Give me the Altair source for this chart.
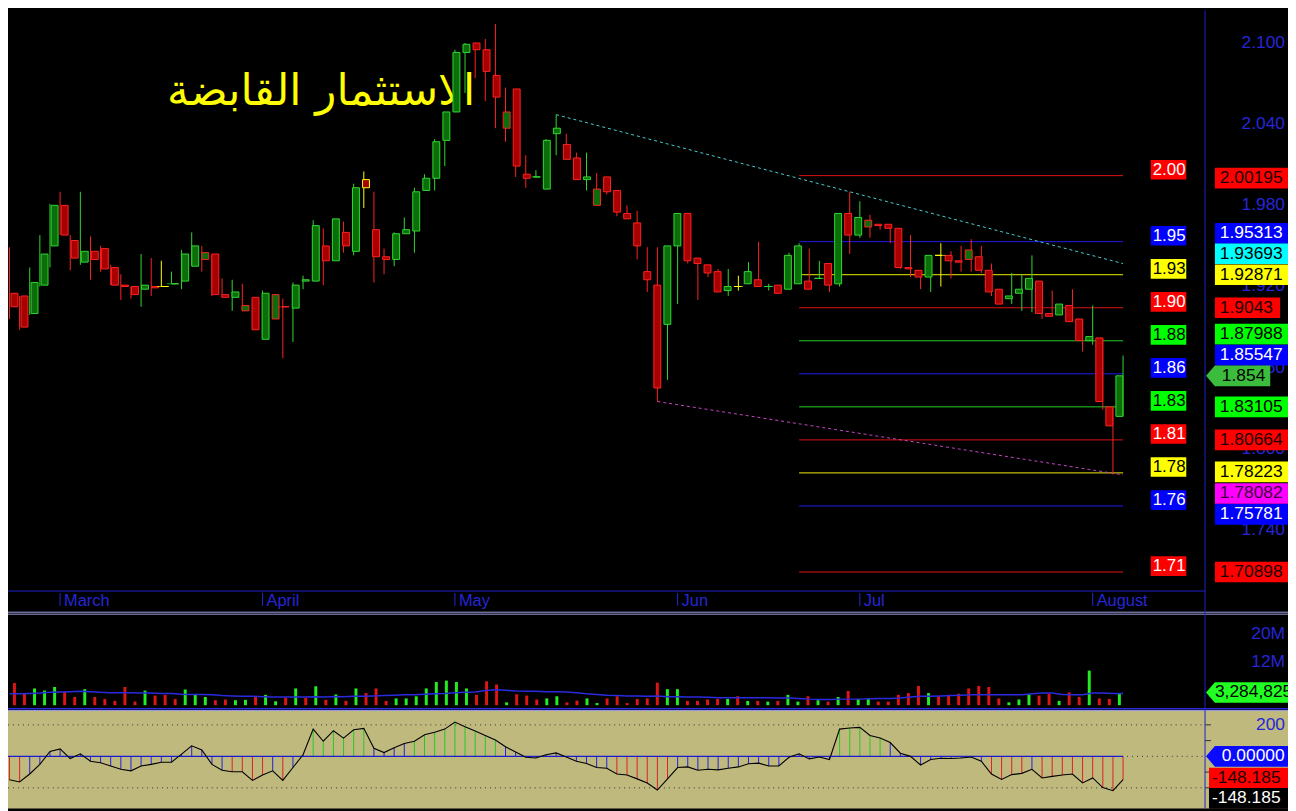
import altair as alt
import pandas as pd

W, H = 1288, 803
SX, SY = W / 1296.0, H / 811.0


def px(v):
    return round(v * SX, 2)


def py(v):
    return round(v * SY, 2)


FONT = "Liberation Sans"
TITLE = "الاستثمار القابضة"

# ---------------- price candles ----------------
opens = [1.915, 1.913, 1.900, 1.921, 1.950, 1.980, 1.954, 1.938, 1.946, 1.948,
         1.934, 1.921, 1.920, 1.918, 1.920, 1.920, 1.922, 1.924, 1.935, 1.940,
         1.944, 1.914, 1.912, 1.902, 1.912, 1.881, 1.896, 1.905, 1.904, 1.924,
         1.924, 1.950, 1.939, 1.960, 1.946, 1.999, 1.962, 1.942, 1.940, 1.959,
         1.961, 1.991, 2.000, 2.028, 2.049, 2.093, 2.100, 2.095, 2.076, 2.037,
         2.066, 2.003, 2.001, 1.992, 2.033, 2.025, 2.015, 1.999, 1.980, 2.001,
         1.991, 1.974, 1.967, 1.931, 1.921, 1.892, 1.950, 1.974, 1.941, 1.936,
         1.931, 1.917, 1.920, 1.922, 1.925, 1.920, 1.921, 1.918, 1.922, 1.924,
         1.926, 1.937, 1.922, 1.974, 1.958, 1.964, 1.966, 1.966, 1.963, 1.934,
         1.932, 1.927, 1.943, 1.943, 1.939, 1.940, 1.942, 1.932, 1.918, 1.911,
         1.915, 1.918, 1.924, 1.900, 1.899, 1.906, 1.896, 1.880, 1.882, 1.831,
         1.824]
highs = [1.949, 1.913, 1.934, 1.958, 1.981, 1.990, 1.958, 1.990, 1.957, 1.950,
         1.936, 1.929, 1.920, 1.944, 1.941, 1.939, 1.931, 1.947, 1.960, 1.950,
         1.944, 1.926, 1.925, 1.922, 1.912, 1.917, 1.914, 1.911, 1.923, 1.928,
         1.969, 1.963, 1.970, 1.968, 1.996, 2.005, 1.990, 1.948, 1.960, 1.971,
         1.993, 2.003, 2.029, 2.049, 2.095, 2.100, 2.100, 2.103, 2.114, 2.067,
         2.066, 2.017, 2.006, 2.029, 2.047, 2.033, 2.019, 2.019, 2.004, 2.001,
         1.991, 1.980, 1.976, 1.949, 1.949, 1.950, 1.974, 1.974, 1.941, 1.936,
         1.933, 1.933, 1.928, 1.938, 1.953, 1.922, 1.921, 1.945, 1.952, 1.948,
         1.939, 1.937, 1.974, 1.990, 1.983, 1.973, 1.966, 1.966, 1.963, 1.958,
         1.932, 1.943, 1.952, 1.946, 1.950, 1.955, 1.950, 1.937, 1.918, 1.930,
         1.929, 1.943, 1.924, 1.917, 1.907, 1.918, 1.896, 1.906, 1.882, 1.831,
         1.869]
lows = [1.896, 1.888, 1.899, 1.920, 1.934, 1.958, 1.932, 1.936, 1.925, 1.931,
        1.921, 1.910, 1.911, 1.905, 1.913, 1.920, 1.922, 1.918, 1.935, 1.931,
        1.913, 1.912, 1.902, 1.902, 1.888, 1.881, 1.896, 1.867, 1.879, 1.918,
        1.924, 1.921, 1.939, 1.945, 1.943, 1.978, 1.923, 1.929, 1.935, 1.959,
        1.945, 1.991, 1.991, 2.009, 2.049, 2.063, 2.074, 2.057, 2.037, 2.027,
        2.001, 1.993, 2.001, 1.992, 2.017, 2.014, 1.999, 1.991, 1.980, 1.988,
        1.972, 1.970, 1.940, 1.916, 1.835, 1.851, 1.907, 1.937, 1.910, 1.927,
        1.916, 1.913, 1.917, 1.922, 1.920, 1.917, 1.915, 1.918, 1.922, 1.918,
        1.926, 1.916, 1.920, 1.944, 1.956, 1.956, 1.962, 1.952, 1.933, 1.927,
        1.918, 1.916, 1.920, 1.926, 1.931, 1.931, 1.930, 1.913, 1.907, 1.907,
        1.902, 1.901, 1.896, 1.898, 1.899, 1.894, 1.872, 1.877, 1.829, 1.781,
        1.824]
closes = [1.905, 1.890, 1.923, 1.944, 1.980, 1.958, 1.941, 1.946, 1.940, 1.933,
          1.921, 1.920, 1.914, 1.921, 1.919, 1.920, 1.922, 1.944, 1.950, 1.945,
          1.914, 1.912, 1.916, 1.906, 1.888, 1.915, 1.914, 1.905, 1.921, 1.925,
          1.965, 1.939, 1.970, 1.950, 1.993, 1.993, 1.942, 1.940, 1.959, 1.962,
          1.990, 2.000, 2.027, 2.049, 2.093, 2.099, 2.095, 2.079, 2.060, 2.049,
          2.009, 2.000, 2.001, 2.028, 2.037, 2.014, 1.999, 2.001, 1.992, 1.990,
          1.975, 1.970, 1.950, 1.925, 1.845, 1.950, 1.974, 1.939, 1.937, 1.930,
          1.916, 1.920, 1.920, 1.931, 1.920, 1.920, 1.915, 1.943, 1.950, 1.918,
          1.926, 1.921, 1.974, 1.958, 1.971, 1.969, 1.965, 1.963, 1.934, 1.933,
          1.927, 1.943, 1.943, 1.939, 1.938, 1.947, 1.932, 1.916, 1.907, 1.913,
          1.918, 1.926, 1.900, 1.898, 1.907, 1.894, 1.880, 1.883, 1.835, 1.817,
          1.854]
# g = up, r = down, u = up day closing below previous, y = highlighted
candle_kind = list("rrgggrrgrr" "rrrgrygggu" "rrgurgurgg" "grgrgyrrgg"
                   "ggggggrrru" "rrgggrrgur" "rrrrrggrrr" "rgygrgrggr"
                   "grgrgurrrr" "rgyrrurrrg" "ggrrgrrgrrg")

# ---------------- volume (millions) ----------------
volume = [6.2, 3.2, 4.7, 4.1, 5.1, 3.7, 2.3, 4.5, 2.3, 1.75,
          1.2, 5.1, 1.0, 4.1, 2.7, 2.9, 1.75, 4.4, 3.0, 2.3,
          1.4, 1.6, 1.4, 1.5, 2.5, 2.9, 1.1, 2.1, 4.7, 2.1,
          5.3, 1.5, 3.0, 1.2, 4.7, 3.4, 4.7, 1.2, 1.9, 1.9,
          2.5, 4.7, 6.5, 6.9, 6.5, 4.7, 2.9, 6.7, 5.8, 0.8,
          3.1, 2.7, 1.6, 1.9, 2.5, 0.8, 1.3, 1.9, 0.6, 1.9,
          2.5, 0.6, 1.75, 1.9, 6.3, 4.5, 4.5, 1.2, 1.2, 1.6,
          1.75, 1.75, 2.5, 1.2, 1.2, 1.0, 1.2, 2.9, 1.0, 2.5,
          1.4, 1.0, 2.3, 4.0, 1.75, 1.75, 1.0, 1.0, 2.9, 3.4,
          5.4, 3.4, 2.5, 2.9, 3.2, 4.7, 5.4, 5.1, 1.9, 0.8,
          1.6, 3.0, 2.7, 3.2, 1.2, 3.6, 2.3, 9.7, 1.9, 1.75, 3.284825]
volume_kind = list("rrgggrrgrr" "rrrgrrrggg" "rrggrggrgr" "grgrgrrrgg"
                   "ggggggrrrg" "rrrggrrggr" "rrrrrggrrr" "rgrgrgrggr"
                   "grgrggrrrr" "rgrrrrrrrg" "ggrrgrrgrrg")
volume_avg = [3.2, 3.2, 3.3, 3.4, 3.6, 3.7, 3.8, 3.9, 3.8, 3.6,
              3.5, 3.5, 3.5, 3.4, 3.4, 3.3, 3.3, 3.1, 3.0, 3.0,
              2.9, 2.7, 2.6, 2.5, 2.5, 2.4, 2.3, 2.3, 2.3, 2.3,
              2.4, 2.3, 2.4, 2.4, 2.5, 2.5, 2.6, 2.7, 2.8, 2.9,
              2.9, 3.1, 3.2, 3.3, 3.5, 3.6, 3.7, 4.1, 4.3, 4.2,
              4.0, 3.9, 3.9, 3.8, 3.8, 3.7, 3.5, 3.2, 3.0, 2.8,
              2.7, 2.6, 2.6, 2.5, 2.6, 2.4, 2.4, 2.3, 2.3, 2.2,
              2.1, 2.1, 2.1, 2.1, 2.1, 2.1, 2.0, 2.0, 1.9, 1.7,
              1.6, 1.6, 1.7, 1.7, 1.7, 1.8, 1.9, 1.9, 2.0, 2.3,
              2.5, 2.5, 2.6, 2.7, 2.8, 2.9, 2.9, 2.9, 2.9, 2.9,
              2.9, 3.2, 3.4, 3.4, 3.0, 2.9, 2.9, 3.4, 3.4, 3.3, 3.3]

# ---------------- oscillator ----------------
osc = [-149, -163, -112, -51, 31, 47, -14, 16, -31, -41,
       -61, -82, -92, -61, -51, -37, -37, 14, 67, 41,
       -51, -88, -98, -98, -153, -118, -92, -153, -71, 10,
       173, 96, 163, 116, 169, 178, 51, 24, 55, 82,
       96, 137, 153, 173, 218, 188, 161, 133, 104, 61,
       27, -6, -10, 10, 22, -4, -31, -45, -71, -76,
       -112, -118, -143, -169, -214, -143, -71, -67, -88, -82,
       -86, -76, -67, -47, -43, -61, -61, -6, 16, -16,
       -4, -20, 173, 180, 184, 133, 116, 88, 20, 0,
       -55, -20, -12, -14, -10, -4, -31, -112, -147, -116,
       -108, -82, -137, -127, -118, -112, -169, -137, -198, -218, -148.185]
osc_kind = list("rrbbbbbbbb" "bbbbbbbbbb" "bbrrrrbrbb" "ggggggbbbb"
                "gggggggggb" "bbbbbbbbbb" "rrrrrrbbbb" "bbbbbbbbbb"
                "bbgggggbbb" "bbbbbbbrrr" "rbrrrrrrrrr")

# ---------------- studies ----------------
levels = [2.00195, 1.95313, 1.92871, 1.9043, 1.87988, 1.85547, 1.83105,
          1.80664, 1.78223, 1.75781, 1.70898]
level_kind = ["r", "b", "y", "r", "g", "b", "g", "r", "y", "b", "r"]
level_from, level_to = 78, 110
trend_up_i, trend_up_p = [54, 110], [2.047, 1.93693]
trend_lo_i, trend_lo_p = [64, 110], [1.835, 1.78082]

months = ["March", "April", "May", "Jun", "Jul", "August"]
month_start = [5, 25, 44, 66, 84, 107]
price_ticks = [2.100, 2.040, 1.980, 1.920, 1.860, 1.800, 1.740]

tag_values = [2.00195, 1.95313, 1.93693, 1.92871, 1.9043, 1.87988, 1.85547,
              1.854, 1.83105, 1.80664, 1.78223, 1.78082, 1.75781, 1.70898]
tag_labels = ["2.00195", "1.95313", "1.93693", "1.92871", "1.9043", "1.87988",
              "1.85547", "1.854", "1.83105", "1.80664", "1.78223", "1.78082",
              "1.75781", "1.70898"]
tag_kind = ["r", "b", "c", "y", "r", "g", "b", "last", "g", "r", "y", "m", "b", "r"]
tag_shift = [2.5, -8.5, -10, 0, 0, -6.7, -19, 0, 0, 0, -1, 19, 8.5, 0]

# ---------------- styles ----------------
BODY_FILL = {"g": "#0b6e0b", "r": "#a80000", "u": "#0b6e0b", "y": "#a80000"}
BODY_EDGE = {"g": "#30d830", "r": "#ff2222", "u": "#ff2222", "y": "#ffff00"}
VOL_COL = {"g": "#22ee22", "r": "#dd1515"}
OSC_COL = {"g": "#22cc22", "b": "#2222dd", "r": "#dd2222"}
LINE_COL = {"r": "#e01010", "b": "#1c1cf0", "y": "#f0f000", "g": "#20d020"}
TAG_BG = {"r": "#ff0000", "b": "#0000ff", "y": "#ffff00", "g": "#00ff00",
          "c": "#00ffff", "m": "#ff00ff", "last": "#3cbc3c"}
TAG_FG = {"r": "#1a0000", "b": "#ffffff", "y": "#000000", "g": "#000000",
          "c": "#000000", "m": "#3a003a", "last": "#000000"}
LEVEL_FG = {"r": "#ffffff", "b": "#ffffff", "y": "#000000", "g": "#000000"}
AXIS_BLUE = "#2626d8"

# ---------------- scales ----------------
xs = alt.Scale(domain=[-1.5 / 10.25, 1294.5 / 10.25], range=[0, W], nice=False, zero=False)
ys_p = alt.Scale(domain=[2.124 - 590 / 1375.0, 2.124], range=[py(590), 0], nice=False, zero=False)
ys_v = alt.Scale(domain=[0, (706 - 614) / 3.625], range=[py(706), py(614)], nice=False, zero=False)
ys_o = alt.Scale(domain=[-331.25, 287.5], range=[py(811), py(712)], nice=False, zero=False)

n = len(opens)
cdf = pd.DataFrame({
    "i": list(range(n)), "o": opens, "h": highs, "l": lows, "c": closes,
    "kind": candle_kind,
})
cdf["lo"] = cdf[["o", "c"]].min(axis=1)
cdf["hi"] = cdf[["o", "c"]].max(axis=1)
cdf["fill"] = cdf["kind"].map(BODY_FILL)
cdf["edge"] = cdf["kind"].map(BODY_EDGE)

vdf = pd.DataFrame({"i": list(range(n)), "v": volume, "ma": volume_avg,
                    "col": [VOL_COL[k] for k in volume_kind]})
odf = pd.DataFrame({"i": list(range(n)), "v": osc, "zero": [0] * n,
                    "col": [OSC_COL[k] for k in osc_kind]})

ONE = pd.DataFrame({"z": [0]})


def X(field="i"):
    return alt.X(f"{field}:Q", scale=xs, axis=None)


def rule_px(x1, x2, y1, y2, color, width=1.0, dash=None):
    props = dict(color=color, strokeWidth=width)
    if dash:
        props["strokeDash"] = dash
    return alt.Chart(ONE).mark_rule(**props).encode(
        x=alt.value(px(x1)), x2=alt.value(px(x2)),
        y=alt.value(py(y1)), y2=alt.value(py(y2)))


def tag(value, text, yscale, bg, fg, left, right, shift, height=21, tip=0,
        text_left=None, fs=17.5):
    w = (right - left) * SX
    a = (height * SY / 2.0) / (w / 2.0)
    if tip:
        t = -1 + 2 * tip * SX / w
        path = f"M-1,0L{t:.4f},{-a:.4f}L1,{-a:.4f}L1,{a:.4f}L{t:.4f},{a:.4f}Z"
    else:
        path = f"M-1,{-a:.4f}L1,{-a:.4f}L1,{a:.4f}L-1,{a:.4f}Z"
    d = pd.DataFrame({"v": [value], "t": [text]})
    yenc = alt.Y("v:Q", scale=yscale, axis=None)
    box = alt.Chart(d).mark_point(
        shape=path, size=w * w, filled=True, color=bg, opacity=1,
        strokeWidth=0, yOffset=shift * SY).encode(
        x=alt.value(px((left + right) / 2.0)), y=yenc)
    tx = alt.Chart(d).mark_text(
        align="left", baseline="middle", font=FONT, fontSize=fs, color=fg,
        yOffset=shift * SY).encode(
        x=alt.value(px(text_left if text_left is not None else left + 5)),
        y=yenc, text="t:N")
    return [box, tx]


layers = []

# oscillator background
layers.append(alt.Chart(ONE).mark_rect(color="#bfb97d").encode(
    x=alt.value(0), x2=alt.value(W), y=alt.value(py(712)), y2=alt.value(H)))

# title
layers.append(alt.Chart(ONE).mark_text(
    text=TITLE, font="DejaVu Sans", fontSize=44, color="#ffff00",
    align="center", baseline="alphabetic").encode(
    x=alt.value(px(317)), y=alt.value(py(96))))

# level lines
ldf = pd.DataFrame({"p": levels, "a": [level_from] * len(levels),
                    "b": [level_to] * len(levels),
                    "col": [LINE_COL[k] for k in level_kind]})
layers.append(alt.Chart(ldf).mark_rule(strokeWidth=1).encode(
    x=X("a"), x2=alt.X2("b"), y=alt.Y("p:Q", scale=ys_p, axis=None),
    color=alt.Color("col:N", scale=None)))

# trend lines
layers.append(alt.Chart(pd.DataFrame({"i": trend_up_i, "p": trend_up_p})).mark_line(
    color="#48d0d0", strokeDash=[3, 3], strokeWidth=1).encode(
    x=X(), y=alt.Y("p:Q", scale=ys_p, axis=None)))
layers.append(alt.Chart(pd.DataFrame({"i": trend_lo_i, "p": trend_lo_p})).mark_line(
    color="#c844c8", strokeDash=[3, 3], strokeWidth=1).encode(
    x=X(), y=alt.Y("p:Q", scale=ys_p, axis=None)))

# candles
layers.append(alt.Chart(cdf).mark_rule(strokeWidth=1).encode(
    x=X(), y=alt.Y("l:Q", scale=ys_p, axis=None), y2=alt.Y2("h:Q"),
    color=alt.Color("edge:N", scale=None)))
layers.append(alt.Chart(cdf).mark_bar(width=7 * SX, strokeWidth=1).encode(
    x=X(), y=alt.Y("lo:Q", scale=ys_p, axis=None), y2=alt.Y2("hi:Q"),
    fill=alt.Fill("fill:N", scale=None), stroke=alt.Stroke("edge:N", scale=None)))
layers.append(alt.Chart(cdf[cdf["o"] == cdf["c"]]).mark_tick(
    orient="horizontal", size=9 * SX, thickness=1).encode(
    x=X(), y=alt.Y("c:Q", scale=ys_p, axis=None),
    color=alt.Color("edge:N", scale=None)))

# volume
layers.append(alt.Chart(vdf).mark_bar(width=3 * SX).encode(
    x=X(), y=alt.Y("v:Q", scale=ys_v, axis=None, stack=None),
    color=alt.Color("col:N", scale=None)))
layers.append(alt.Chart(vdf).mark_line(color="#2a2ae0", strokeWidth=1.5).encode(
    x=X(), y=alt.Y("ma:Q", scale=ys_v, axis=None)))

# oscillator guides
for val in (200, -200):
    layers.append(alt.Chart(pd.DataFrame({"v": [val]})).mark_rule(
        color="#333333", strokeWidth=1, strokeDash=[1, 4]).encode(
        x=alt.value(0), x2=alt.value(px(1212)), y=alt.Y("v:Q", scale=ys_o, axis=None)))
layers.append(alt.Chart(pd.DataFrame({"v": [0]})).mark_rule(
    color="#333333", strokeWidth=1, strokeDash=[1, 4]).encode(
    x=alt.value(px(1128)), x2=alt.value(px(1212)), y=alt.Y("v:Q", scale=ys_o, axis=None)))
layers.append(alt.Chart(odf).mark_rule(strokeWidth=1).encode(
    x=X(), y=alt.Y("v:Q", scale=ys_o, axis=None), y2=alt.Y2("zero:Q"),
    color=alt.Color("col:N", scale=None)))
layers.append(alt.Chart(pd.DataFrame({"a": [-0.2], "b": [n - 1], "v": [0]})).mark_rule(
    color="#1a1ad0", strokeWidth=1.2).encode(
    x=X("a"), x2=alt.X2("b"), y=alt.Y("v:Q", scale=ys_o, axis=None)))
layers.append(alt.Chart(odf).mark_line(color="#000000", strokeWidth=1.1).encode(
    x=X(), y=alt.Y("v:Q", scale=ys_o, axis=None)))
for val in (200, 100, -100, -200):
    layers.append(alt.Chart(pd.DataFrame({"v": [val]})).mark_rule(
        color="#303030", strokeWidth=1).encode(
        x=alt.value(px(1212)), x2=alt.value(px(1218)),
        y=alt.Y("v:Q", scale=ys_o, axis=None)))

# panel separators
layers.append(rule_px(0, 1212, 590, 590, "#2020d0"))
layers.append(rule_px(0, 1296, 611.5, 611.5, "#a0a0e0"))
layers.append(rule_px(0, 1296, 613.5, 613.5, "#a0a0e0"))
layers.append(rule_px(0, 1296, 709.5, 709.5, "#2a2ad8", 1.5))
layers.append(rule_px(0, 1296, 711.5, 711.5, "#a8a8e8"))
layers.append(rule_px(1212, 1212, 0, 811, "#2020d0"))

# month labels
mdf = pd.DataFrame({"i": month_start, "t": months})
layers.append(alt.Chart(mdf).mark_rule(color=AXIS_BLUE, strokeWidth=1).encode(
    x=X(), y=alt.value(py(592)), y2=alt.value(py(605))))
layers.append(alt.Chart(mdf).mark_text(
    align="left", baseline="middle", dx=4, font=FONT, fontSize=16.5,
    color=AXIS_BLUE).encode(x=X(), y=alt.value(py(600)), text="t:N"))

# right axis labels
layers.append(alt.Chart(pd.DataFrame({"v": price_ticks})).mark_text(
    align="right", baseline="middle", font=FONT, fontSize=17.5, color=AXIS_BLUE).encode(
    x=alt.value(px(1293)), y=alt.Y("v:Q", scale=ys_p, axis=None),
    text=alt.Text("v:Q", format=".3f")))
layers.append(alt.Chart(pd.DataFrame({"v": [20, 12], "t": ["20M", "12M"]})).mark_text(
    align="right", baseline="middle", font=FONT, fontSize=17.5, color=AXIS_BLUE).encode(
    x=alt.value(px(1293)), y=alt.Y("v:Q", scale=ys_v, axis=None), text="t:N"))
layers.append(alt.Chart(pd.DataFrame({"v": [200], "t": ["200"]})).mark_text(
    align="right", baseline="middle", font=FONT, fontSize=17.5, color=AXIS_BLUE).encode(
    x=alt.value(px(1293)), y=alt.Y("v:Q", scale=ys_o, axis=None), text="t:N"))

# level tags (left column)
for v, k in zip(levels, level_kind):
    layers += tag(v, f"{v:.2f}", ys_p, TAG_BG[k], LEVEL_FG[k], 1157, 1193, -6,
                  height=20, text_left=1159, fs=17)

# value tags (right column)
for v, t, k, s in zip(tag_values, tag_labels, tag_kind, tag_shift):
    if k == "last":
        layers += tag(v, t, ys_p, TAG_BG[k], TAG_FG[k], 1213, 1278, s, tip=9,
                      text_left=1229)
    else:
        right = 1288 if len(t) < 7 else 1298
        layers += tag(v, t, ys_p, TAG_BG[k], TAG_FG[k], 1222, right, s,
                      text_left=1227)

layers += tag(volume[-1], "3,284,825", ys_v, "#22ff22", "#000000", 1213, 1298, -1,
              tip=9, text_left=1222)
layers += tag(0, "0.00000", ys_o, "#0a0aff", "#ffffff", 1213, 1298, 0, tip=9,
              text_left=1229)
layers += tag(osc[-1], "-148.185", ys_o, "#ff0000", "#1a0000", 1216, 1298, -1.7,
              text_left=1219)
layers += tag(osc[-1], "-148.185", ys_o, "#000000", "#ffffff", 1216, 1298, 19,
              text_left=1219)

chart = alt.layer(*layers).resolve_scale(
    x="independent", y="independent", color="independent"
).properties(
    width=W, height=H, background="#000000", padding=0,
    autosize=alt.AutoSizeParams(type="none"),
).configure_view(strokeWidth=0)

chart.save("out.html", embed_options={"renderer": "svg", "actions": False})
